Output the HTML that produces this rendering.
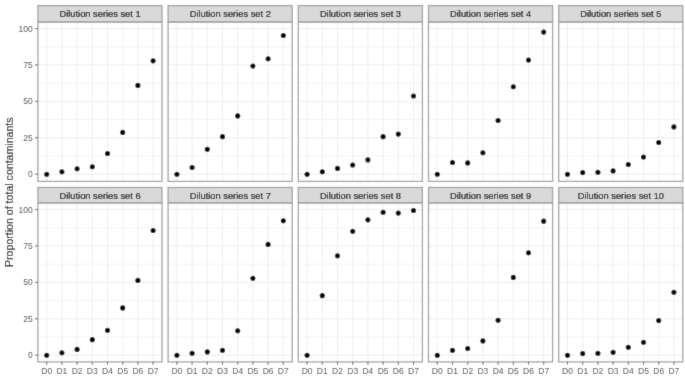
<!DOCTYPE html>
<html><head><meta charset="utf-8"><style>
html,body{margin:0;padding:0;background:#fff;width:685px;height:378px;overflow:hidden;}
#w{filter:grayscale(1);width:685px;height:378px;}
svg{display:block;font-family:"Liberation Sans",sans-serif;}
</style></head><body><div id="w">
<svg width="685" height="378" viewBox="0 0 685 378">
<defs><filter id="bl" x="0" y="0" width="1" height="1"><feConvolveMatrix order="3" kernelMatrix="0.01134 0.08382 0.01134 0.08382 0.61935 0.08382 0.01134 0.08382 0.01134" edgeMode="duplicate" preserveAlpha="true"/></filter></defs>
<g filter="url(#bl)"><rect width="685" height="378" fill="#fff"/>
<line x1="37.90" x2="162.00" y1="155.99" y2="155.99" stroke="#ebebeb" stroke-width="0.5"/>
<line x1="37.90" x2="162.00" y1="119.56" y2="119.56" stroke="#ebebeb" stroke-width="0.5"/>
<line x1="37.90" x2="162.00" y1="83.14" y2="83.14" stroke="#ebebeb" stroke-width="0.5"/>
<line x1="37.90" x2="162.00" y1="46.71" y2="46.71" stroke="#ebebeb" stroke-width="0.5"/>
<line x1="37.90" x2="162.00" y1="174.20" y2="174.20" stroke="#ebebeb" stroke-width="0.85"/>
<line x1="37.90" x2="162.00" y1="137.77" y2="137.77" stroke="#ebebeb" stroke-width="0.85"/>
<line x1="37.90" x2="162.00" y1="101.35" y2="101.35" stroke="#ebebeb" stroke-width="0.85"/>
<line x1="37.90" x2="162.00" y1="64.92" y2="64.92" stroke="#ebebeb" stroke-width="0.85"/>
<line x1="37.90" x2="162.00" y1="28.50" y2="28.50" stroke="#ebebeb" stroke-width="0.85"/>
<line x1="46.70" x2="46.70" y1="22.00" y2="181.40" stroke="#ebebeb" stroke-width="0.85"/>
<line x1="61.90" x2="61.90" y1="22.00" y2="181.40" stroke="#ebebeb" stroke-width="0.85"/>
<line x1="77.10" x2="77.10" y1="22.00" y2="181.40" stroke="#ebebeb" stroke-width="0.85"/>
<line x1="92.30" x2="92.30" y1="22.00" y2="181.40" stroke="#ebebeb" stroke-width="0.85"/>
<line x1="107.50" x2="107.50" y1="22.00" y2="181.40" stroke="#ebebeb" stroke-width="0.85"/>
<line x1="122.70" x2="122.70" y1="22.00" y2="181.40" stroke="#ebebeb" stroke-width="0.85"/>
<line x1="137.90" x2="137.90" y1="22.00" y2="181.40" stroke="#ebebeb" stroke-width="0.85"/>
<line x1="153.10" x2="153.10" y1="22.00" y2="181.40" stroke="#ebebeb" stroke-width="0.85"/>
<rect x="37.90" y="5.60" width="124.10" height="16.40" fill="#d9d9d9" stroke="#a3a3a3" stroke-width="1.3"/>
<text x="100.05" y="17.10" text-anchor="middle" font-family="Liberation Sans" font-size="9.3" fill="#111" stroke="#111" stroke-width="0.2">Dilution series set 1</text>
<rect x="37.90" y="22.00" width="124.10" height="159.40" fill="none" stroke="#a3a3a3" stroke-width="1.3"/>
<circle cx="46.70" cy="174.30" r="2.55" fill="#000"/>
<circle cx="61.90" cy="171.77" r="2.55" fill="#000"/>
<circle cx="77.10" cy="168.81" r="2.55" fill="#000"/>
<circle cx="92.30" cy="166.69" r="2.55" fill="#000"/>
<circle cx="107.50" cy="153.57" r="2.55" fill="#000"/>
<circle cx="122.70" cy="132.40" r="2.55" fill="#000"/>
<circle cx="137.90" cy="85.42" r="2.55" fill="#000"/>
<circle cx="153.10" cy="60.87" r="2.55" fill="#000"/>
<line x1="35.10" x2="37.90" y1="174.20" y2="174.20" stroke="#6a6a6a" stroke-width="1.1"/>
<text x="32.70" y="177.20" text-anchor="end" font-family="Liberation Sans" font-size="8.5" fill="#4d4d4d">0</text>
<line x1="35.10" x2="37.90" y1="137.77" y2="137.77" stroke="#6a6a6a" stroke-width="1.1"/>
<text x="32.70" y="140.77" text-anchor="end" font-family="Liberation Sans" font-size="8.5" fill="#4d4d4d">25</text>
<line x1="35.10" x2="37.90" y1="101.35" y2="101.35" stroke="#6a6a6a" stroke-width="1.1"/>
<text x="32.70" y="104.35" text-anchor="end" font-family="Liberation Sans" font-size="8.5" fill="#4d4d4d">50</text>
<line x1="35.10" x2="37.90" y1="64.92" y2="64.92" stroke="#6a6a6a" stroke-width="1.1"/>
<text x="32.70" y="67.92" text-anchor="end" font-family="Liberation Sans" font-size="8.5" fill="#4d4d4d">75</text>
<line x1="35.10" x2="37.90" y1="28.50" y2="28.50" stroke="#6a6a6a" stroke-width="1.1"/>
<text x="32.70" y="31.50" text-anchor="end" font-family="Liberation Sans" font-size="8.5" fill="#4d4d4d">100</text>
<line x1="168.10" x2="292.20" y1="155.99" y2="155.99" stroke="#ebebeb" stroke-width="0.5"/>
<line x1="168.10" x2="292.20" y1="119.56" y2="119.56" stroke="#ebebeb" stroke-width="0.5"/>
<line x1="168.10" x2="292.20" y1="83.14" y2="83.14" stroke="#ebebeb" stroke-width="0.5"/>
<line x1="168.10" x2="292.20" y1="46.71" y2="46.71" stroke="#ebebeb" stroke-width="0.5"/>
<line x1="168.10" x2="292.20" y1="174.20" y2="174.20" stroke="#ebebeb" stroke-width="0.85"/>
<line x1="168.10" x2="292.20" y1="137.77" y2="137.77" stroke="#ebebeb" stroke-width="0.85"/>
<line x1="168.10" x2="292.20" y1="101.35" y2="101.35" stroke="#ebebeb" stroke-width="0.85"/>
<line x1="168.10" x2="292.20" y1="64.92" y2="64.92" stroke="#ebebeb" stroke-width="0.85"/>
<line x1="168.10" x2="292.20" y1="28.50" y2="28.50" stroke="#ebebeb" stroke-width="0.85"/>
<line x1="176.90" x2="176.90" y1="22.00" y2="181.40" stroke="#ebebeb" stroke-width="0.85"/>
<line x1="192.10" x2="192.10" y1="22.00" y2="181.40" stroke="#ebebeb" stroke-width="0.85"/>
<line x1="207.30" x2="207.30" y1="22.00" y2="181.40" stroke="#ebebeb" stroke-width="0.85"/>
<line x1="222.50" x2="222.50" y1="22.00" y2="181.40" stroke="#ebebeb" stroke-width="0.85"/>
<line x1="237.70" x2="237.70" y1="22.00" y2="181.40" stroke="#ebebeb" stroke-width="0.85"/>
<line x1="252.90" x2="252.90" y1="22.00" y2="181.40" stroke="#ebebeb" stroke-width="0.85"/>
<line x1="268.10" x2="268.10" y1="22.00" y2="181.40" stroke="#ebebeb" stroke-width="0.85"/>
<line x1="283.30" x2="283.30" y1="22.00" y2="181.40" stroke="#ebebeb" stroke-width="0.85"/>
<rect x="168.10" y="5.60" width="124.10" height="16.40" fill="#d9d9d9" stroke="#a3a3a3" stroke-width="1.3"/>
<text x="230.25" y="17.10" text-anchor="middle" font-family="Liberation Sans" font-size="9.3" fill="#111" stroke="#111" stroke-width="0.2">Dilution series set 2</text>
<rect x="168.10" y="22.00" width="124.10" height="159.40" fill="none" stroke="#a3a3a3" stroke-width="1.3"/>
<circle cx="176.90" cy="174.30" r="2.55" fill="#000"/>
<circle cx="192.10" cy="167.54" r="2.55" fill="#000"/>
<circle cx="207.30" cy="149.33" r="2.55" fill="#000"/>
<circle cx="222.50" cy="136.64" r="2.55" fill="#000"/>
<circle cx="237.70" cy="115.89" r="2.55" fill="#000"/>
<circle cx="252.90" cy="65.95" r="2.55" fill="#000"/>
<circle cx="268.10" cy="58.75" r="2.55" fill="#000"/>
<circle cx="283.30" cy="35.47" r="2.55" fill="#000"/>
<line x1="298.30" x2="422.40" y1="155.99" y2="155.99" stroke="#ebebeb" stroke-width="0.5"/>
<line x1="298.30" x2="422.40" y1="119.56" y2="119.56" stroke="#ebebeb" stroke-width="0.5"/>
<line x1="298.30" x2="422.40" y1="83.14" y2="83.14" stroke="#ebebeb" stroke-width="0.5"/>
<line x1="298.30" x2="422.40" y1="46.71" y2="46.71" stroke="#ebebeb" stroke-width="0.5"/>
<line x1="298.30" x2="422.40" y1="174.20" y2="174.20" stroke="#ebebeb" stroke-width="0.85"/>
<line x1="298.30" x2="422.40" y1="137.77" y2="137.77" stroke="#ebebeb" stroke-width="0.85"/>
<line x1="298.30" x2="422.40" y1="101.35" y2="101.35" stroke="#ebebeb" stroke-width="0.85"/>
<line x1="298.30" x2="422.40" y1="64.92" y2="64.92" stroke="#ebebeb" stroke-width="0.85"/>
<line x1="298.30" x2="422.40" y1="28.50" y2="28.50" stroke="#ebebeb" stroke-width="0.85"/>
<line x1="307.10" x2="307.10" y1="22.00" y2="181.40" stroke="#ebebeb" stroke-width="0.85"/>
<line x1="322.30" x2="322.30" y1="22.00" y2="181.40" stroke="#ebebeb" stroke-width="0.85"/>
<line x1="337.50" x2="337.50" y1="22.00" y2="181.40" stroke="#ebebeb" stroke-width="0.85"/>
<line x1="352.70" x2="352.70" y1="22.00" y2="181.40" stroke="#ebebeb" stroke-width="0.85"/>
<line x1="367.90" x2="367.90" y1="22.00" y2="181.40" stroke="#ebebeb" stroke-width="0.85"/>
<line x1="383.10" x2="383.10" y1="22.00" y2="181.40" stroke="#ebebeb" stroke-width="0.85"/>
<line x1="398.30" x2="398.30" y1="22.00" y2="181.40" stroke="#ebebeb" stroke-width="0.85"/>
<line x1="413.50" x2="413.50" y1="22.00" y2="181.40" stroke="#ebebeb" stroke-width="0.85"/>
<rect x="298.30" y="5.60" width="124.10" height="16.40" fill="#d9d9d9" stroke="#a3a3a3" stroke-width="1.3"/>
<text x="360.45" y="17.10" text-anchor="middle" font-family="Liberation Sans" font-size="9.3" fill="#111" stroke="#111" stroke-width="0.2">Dilution series set 3</text>
<rect x="298.30" y="22.00" width="124.10" height="159.40" fill="none" stroke="#a3a3a3" stroke-width="1.3"/>
<circle cx="307.10" cy="174.30" r="2.55" fill="#000"/>
<circle cx="322.30" cy="171.77" r="2.55" fill="#000"/>
<circle cx="337.50" cy="168.38" r="2.55" fill="#000"/>
<circle cx="352.70" cy="165.00" r="2.55" fill="#000"/>
<circle cx="367.90" cy="159.92" r="2.55" fill="#000"/>
<circle cx="383.10" cy="136.64" r="2.55" fill="#000"/>
<circle cx="398.30" cy="134.10" r="2.55" fill="#000"/>
<circle cx="413.50" cy="96.00" r="2.55" fill="#000"/>
<line x1="428.50" x2="552.60" y1="155.99" y2="155.99" stroke="#ebebeb" stroke-width="0.5"/>
<line x1="428.50" x2="552.60" y1="119.56" y2="119.56" stroke="#ebebeb" stroke-width="0.5"/>
<line x1="428.50" x2="552.60" y1="83.14" y2="83.14" stroke="#ebebeb" stroke-width="0.5"/>
<line x1="428.50" x2="552.60" y1="46.71" y2="46.71" stroke="#ebebeb" stroke-width="0.5"/>
<line x1="428.50" x2="552.60" y1="174.20" y2="174.20" stroke="#ebebeb" stroke-width="0.85"/>
<line x1="428.50" x2="552.60" y1="137.77" y2="137.77" stroke="#ebebeb" stroke-width="0.85"/>
<line x1="428.50" x2="552.60" y1="101.35" y2="101.35" stroke="#ebebeb" stroke-width="0.85"/>
<line x1="428.50" x2="552.60" y1="64.92" y2="64.92" stroke="#ebebeb" stroke-width="0.85"/>
<line x1="428.50" x2="552.60" y1="28.50" y2="28.50" stroke="#ebebeb" stroke-width="0.85"/>
<line x1="437.30" x2="437.30" y1="22.00" y2="181.40" stroke="#ebebeb" stroke-width="0.85"/>
<line x1="452.50" x2="452.50" y1="22.00" y2="181.40" stroke="#ebebeb" stroke-width="0.85"/>
<line x1="467.70" x2="467.70" y1="22.00" y2="181.40" stroke="#ebebeb" stroke-width="0.85"/>
<line x1="482.90" x2="482.90" y1="22.00" y2="181.40" stroke="#ebebeb" stroke-width="0.85"/>
<line x1="498.10" x2="498.10" y1="22.00" y2="181.40" stroke="#ebebeb" stroke-width="0.85"/>
<line x1="513.30" x2="513.30" y1="22.00" y2="181.40" stroke="#ebebeb" stroke-width="0.85"/>
<line x1="528.50" x2="528.50" y1="22.00" y2="181.40" stroke="#ebebeb" stroke-width="0.85"/>
<line x1="543.70" x2="543.70" y1="22.00" y2="181.40" stroke="#ebebeb" stroke-width="0.85"/>
<rect x="428.50" y="5.60" width="124.10" height="16.40" fill="#d9d9d9" stroke="#a3a3a3" stroke-width="1.3"/>
<text x="490.65" y="17.10" text-anchor="middle" font-family="Liberation Sans" font-size="9.3" fill="#111" stroke="#111" stroke-width="0.2">Dilution series set 4</text>
<rect x="428.50" y="22.00" width="124.10" height="159.40" fill="none" stroke="#a3a3a3" stroke-width="1.3"/>
<circle cx="437.30" cy="174.30" r="2.55" fill="#000"/>
<circle cx="452.50" cy="162.46" r="2.55" fill="#000"/>
<circle cx="467.70" cy="162.88" r="2.55" fill="#000"/>
<circle cx="482.90" cy="152.72" r="2.55" fill="#000"/>
<circle cx="498.10" cy="120.55" r="2.55" fill="#000"/>
<circle cx="513.30" cy="86.69" r="2.55" fill="#000"/>
<circle cx="528.50" cy="60.02" r="2.55" fill="#000"/>
<circle cx="543.70" cy="32.09" r="2.55" fill="#000"/>
<line x1="558.70" x2="682.80" y1="155.99" y2="155.99" stroke="#ebebeb" stroke-width="0.5"/>
<line x1="558.70" x2="682.80" y1="119.56" y2="119.56" stroke="#ebebeb" stroke-width="0.5"/>
<line x1="558.70" x2="682.80" y1="83.14" y2="83.14" stroke="#ebebeb" stroke-width="0.5"/>
<line x1="558.70" x2="682.80" y1="46.71" y2="46.71" stroke="#ebebeb" stroke-width="0.5"/>
<line x1="558.70" x2="682.80" y1="174.20" y2="174.20" stroke="#ebebeb" stroke-width="0.85"/>
<line x1="558.70" x2="682.80" y1="137.77" y2="137.77" stroke="#ebebeb" stroke-width="0.85"/>
<line x1="558.70" x2="682.80" y1="101.35" y2="101.35" stroke="#ebebeb" stroke-width="0.85"/>
<line x1="558.70" x2="682.80" y1="64.92" y2="64.92" stroke="#ebebeb" stroke-width="0.85"/>
<line x1="558.70" x2="682.80" y1="28.50" y2="28.50" stroke="#ebebeb" stroke-width="0.85"/>
<line x1="567.50" x2="567.50" y1="22.00" y2="181.40" stroke="#ebebeb" stroke-width="0.85"/>
<line x1="582.70" x2="582.70" y1="22.00" y2="181.40" stroke="#ebebeb" stroke-width="0.85"/>
<line x1="597.90" x2="597.90" y1="22.00" y2="181.40" stroke="#ebebeb" stroke-width="0.85"/>
<line x1="613.10" x2="613.10" y1="22.00" y2="181.40" stroke="#ebebeb" stroke-width="0.85"/>
<line x1="628.30" x2="628.30" y1="22.00" y2="181.40" stroke="#ebebeb" stroke-width="0.85"/>
<line x1="643.50" x2="643.50" y1="22.00" y2="181.40" stroke="#ebebeb" stroke-width="0.85"/>
<line x1="658.70" x2="658.70" y1="22.00" y2="181.40" stroke="#ebebeb" stroke-width="0.85"/>
<line x1="673.90" x2="673.90" y1="22.00" y2="181.40" stroke="#ebebeb" stroke-width="0.85"/>
<rect x="558.70" y="5.60" width="124.10" height="16.40" fill="#d9d9d9" stroke="#a3a3a3" stroke-width="1.3"/>
<text x="620.85" y="17.10" text-anchor="middle" font-family="Liberation Sans" font-size="9.3" fill="#111" stroke="#111" stroke-width="0.2">Dilution series set 5</text>
<rect x="558.70" y="22.00" width="124.10" height="159.40" fill="none" stroke="#a3a3a3" stroke-width="1.3"/>
<circle cx="567.50" cy="174.30" r="2.55" fill="#000"/>
<circle cx="582.70" cy="172.61" r="2.55" fill="#000"/>
<circle cx="597.90" cy="172.19" r="2.55" fill="#000"/>
<circle cx="613.10" cy="170.92" r="2.55" fill="#000"/>
<circle cx="628.30" cy="164.57" r="2.55" fill="#000"/>
<circle cx="643.50" cy="156.95" r="2.55" fill="#000"/>
<circle cx="658.70" cy="142.56" r="2.55" fill="#000"/>
<circle cx="673.90" cy="126.90" r="2.55" fill="#000"/>
<line x1="37.90" x2="162.00" y1="336.99" y2="336.99" stroke="#ebebeb" stroke-width="0.5"/>
<line x1="37.90" x2="162.00" y1="300.56" y2="300.56" stroke="#ebebeb" stroke-width="0.5"/>
<line x1="37.90" x2="162.00" y1="264.14" y2="264.14" stroke="#ebebeb" stroke-width="0.5"/>
<line x1="37.90" x2="162.00" y1="227.71" y2="227.71" stroke="#ebebeb" stroke-width="0.5"/>
<line x1="37.90" x2="162.00" y1="355.20" y2="355.20" stroke="#ebebeb" stroke-width="0.85"/>
<line x1="37.90" x2="162.00" y1="318.77" y2="318.77" stroke="#ebebeb" stroke-width="0.85"/>
<line x1="37.90" x2="162.00" y1="282.35" y2="282.35" stroke="#ebebeb" stroke-width="0.85"/>
<line x1="37.90" x2="162.00" y1="245.93" y2="245.93" stroke="#ebebeb" stroke-width="0.85"/>
<line x1="37.90" x2="162.00" y1="209.50" y2="209.50" stroke="#ebebeb" stroke-width="0.85"/>
<line x1="46.70" x2="46.70" y1="202.90" y2="361.90" stroke="#ebebeb" stroke-width="0.85"/>
<line x1="61.90" x2="61.90" y1="202.90" y2="361.90" stroke="#ebebeb" stroke-width="0.85"/>
<line x1="77.10" x2="77.10" y1="202.90" y2="361.90" stroke="#ebebeb" stroke-width="0.85"/>
<line x1="92.30" x2="92.30" y1="202.90" y2="361.90" stroke="#ebebeb" stroke-width="0.85"/>
<line x1="107.50" x2="107.50" y1="202.90" y2="361.90" stroke="#ebebeb" stroke-width="0.85"/>
<line x1="122.70" x2="122.70" y1="202.90" y2="361.90" stroke="#ebebeb" stroke-width="0.85"/>
<line x1="137.90" x2="137.90" y1="202.90" y2="361.90" stroke="#ebebeb" stroke-width="0.85"/>
<line x1="153.10" x2="153.10" y1="202.90" y2="361.90" stroke="#ebebeb" stroke-width="0.85"/>
<rect x="37.90" y="187.50" width="124.10" height="15.40" fill="#d9d9d9" stroke="#a3a3a3" stroke-width="1.3"/>
<text x="100.05" y="198.50" text-anchor="middle" font-family="Liberation Sans" font-size="9.3" fill="#111" stroke="#111" stroke-width="0.2">Dilution series set 6</text>
<rect x="37.90" y="202.90" width="124.10" height="159.00" fill="none" stroke="#a3a3a3" stroke-width="1.3"/>
<circle cx="46.70" cy="355.30" r="2.55" fill="#000"/>
<circle cx="61.90" cy="352.77" r="2.55" fill="#000"/>
<circle cx="77.10" cy="349.38" r="2.55" fill="#000"/>
<circle cx="92.30" cy="339.65" r="2.55" fill="#000"/>
<circle cx="107.50" cy="330.33" r="2.55" fill="#000"/>
<circle cx="122.70" cy="307.90" r="2.55" fill="#000"/>
<circle cx="137.90" cy="280.39" r="2.55" fill="#000"/>
<circle cx="153.10" cy="230.44" r="2.55" fill="#000"/>
<line x1="35.10" x2="37.90" y1="355.20" y2="355.20" stroke="#6a6a6a" stroke-width="1.1"/>
<text x="32.70" y="358.20" text-anchor="end" font-family="Liberation Sans" font-size="8.5" fill="#4d4d4d">0</text>
<line x1="35.10" x2="37.90" y1="318.77" y2="318.77" stroke="#6a6a6a" stroke-width="1.1"/>
<text x="32.70" y="321.77" text-anchor="end" font-family="Liberation Sans" font-size="8.5" fill="#4d4d4d">25</text>
<line x1="35.10" x2="37.90" y1="282.35" y2="282.35" stroke="#6a6a6a" stroke-width="1.1"/>
<text x="32.70" y="285.35" text-anchor="end" font-family="Liberation Sans" font-size="8.5" fill="#4d4d4d">50</text>
<line x1="35.10" x2="37.90" y1="245.93" y2="245.93" stroke="#6a6a6a" stroke-width="1.1"/>
<text x="32.70" y="248.93" text-anchor="end" font-family="Liberation Sans" font-size="8.5" fill="#4d4d4d">75</text>
<line x1="35.10" x2="37.90" y1="209.50" y2="209.50" stroke="#6a6a6a" stroke-width="1.1"/>
<text x="32.70" y="212.50" text-anchor="end" font-family="Liberation Sans" font-size="8.5" fill="#4d4d4d">100</text>
<line x1="46.70" x2="46.70" y1="361.90" y2="364.70" stroke="#6a6a6a" stroke-width="1.1"/>
<text x="46.70" y="373.50" text-anchor="middle" font-family="Liberation Sans" font-size="8.5" fill="#4d4d4d">D0</text>
<line x1="61.90" x2="61.90" y1="361.90" y2="364.70" stroke="#6a6a6a" stroke-width="1.1"/>
<text x="61.90" y="373.50" text-anchor="middle" font-family="Liberation Sans" font-size="8.5" fill="#4d4d4d">D1</text>
<line x1="77.10" x2="77.10" y1="361.90" y2="364.70" stroke="#6a6a6a" stroke-width="1.1"/>
<text x="77.10" y="373.50" text-anchor="middle" font-family="Liberation Sans" font-size="8.5" fill="#4d4d4d">D2</text>
<line x1="92.30" x2="92.30" y1="361.90" y2="364.70" stroke="#6a6a6a" stroke-width="1.1"/>
<text x="92.30" y="373.50" text-anchor="middle" font-family="Liberation Sans" font-size="8.5" fill="#4d4d4d">D3</text>
<line x1="107.50" x2="107.50" y1="361.90" y2="364.70" stroke="#6a6a6a" stroke-width="1.1"/>
<text x="107.50" y="373.50" text-anchor="middle" font-family="Liberation Sans" font-size="8.5" fill="#4d4d4d">D4</text>
<line x1="122.70" x2="122.70" y1="361.90" y2="364.70" stroke="#6a6a6a" stroke-width="1.1"/>
<text x="122.70" y="373.50" text-anchor="middle" font-family="Liberation Sans" font-size="8.5" fill="#4d4d4d">D5</text>
<line x1="137.90" x2="137.90" y1="361.90" y2="364.70" stroke="#6a6a6a" stroke-width="1.1"/>
<text x="137.90" y="373.50" text-anchor="middle" font-family="Liberation Sans" font-size="8.5" fill="#4d4d4d">D6</text>
<line x1="153.10" x2="153.10" y1="361.90" y2="364.70" stroke="#6a6a6a" stroke-width="1.1"/>
<text x="153.10" y="373.50" text-anchor="middle" font-family="Liberation Sans" font-size="8.5" fill="#4d4d4d">D7</text>
<line x1="168.10" x2="292.20" y1="336.99" y2="336.99" stroke="#ebebeb" stroke-width="0.5"/>
<line x1="168.10" x2="292.20" y1="300.56" y2="300.56" stroke="#ebebeb" stroke-width="0.5"/>
<line x1="168.10" x2="292.20" y1="264.14" y2="264.14" stroke="#ebebeb" stroke-width="0.5"/>
<line x1="168.10" x2="292.20" y1="227.71" y2="227.71" stroke="#ebebeb" stroke-width="0.5"/>
<line x1="168.10" x2="292.20" y1="355.20" y2="355.20" stroke="#ebebeb" stroke-width="0.85"/>
<line x1="168.10" x2="292.20" y1="318.77" y2="318.77" stroke="#ebebeb" stroke-width="0.85"/>
<line x1="168.10" x2="292.20" y1="282.35" y2="282.35" stroke="#ebebeb" stroke-width="0.85"/>
<line x1="168.10" x2="292.20" y1="245.93" y2="245.93" stroke="#ebebeb" stroke-width="0.85"/>
<line x1="168.10" x2="292.20" y1="209.50" y2="209.50" stroke="#ebebeb" stroke-width="0.85"/>
<line x1="176.90" x2="176.90" y1="202.90" y2="361.90" stroke="#ebebeb" stroke-width="0.85"/>
<line x1="192.10" x2="192.10" y1="202.90" y2="361.90" stroke="#ebebeb" stroke-width="0.85"/>
<line x1="207.30" x2="207.30" y1="202.90" y2="361.90" stroke="#ebebeb" stroke-width="0.85"/>
<line x1="222.50" x2="222.50" y1="202.90" y2="361.90" stroke="#ebebeb" stroke-width="0.85"/>
<line x1="237.70" x2="237.70" y1="202.90" y2="361.90" stroke="#ebebeb" stroke-width="0.85"/>
<line x1="252.90" x2="252.90" y1="202.90" y2="361.90" stroke="#ebebeb" stroke-width="0.85"/>
<line x1="268.10" x2="268.10" y1="202.90" y2="361.90" stroke="#ebebeb" stroke-width="0.85"/>
<line x1="283.30" x2="283.30" y1="202.90" y2="361.90" stroke="#ebebeb" stroke-width="0.85"/>
<rect x="168.10" y="187.50" width="124.10" height="15.40" fill="#d9d9d9" stroke="#a3a3a3" stroke-width="1.3"/>
<text x="230.25" y="198.50" text-anchor="middle" font-family="Liberation Sans" font-size="9.3" fill="#111" stroke="#111" stroke-width="0.2">Dilution series set 7</text>
<rect x="168.10" y="202.90" width="124.10" height="159.00" fill="none" stroke="#a3a3a3" stroke-width="1.3"/>
<circle cx="176.90" cy="355.30" r="2.55" fill="#000"/>
<circle cx="192.10" cy="353.19" r="2.55" fill="#000"/>
<circle cx="207.30" cy="351.92" r="2.55" fill="#000"/>
<circle cx="222.50" cy="350.23" r="2.55" fill="#000"/>
<circle cx="237.70" cy="330.76" r="2.55" fill="#000"/>
<circle cx="252.90" cy="278.27" r="2.55" fill="#000"/>
<circle cx="268.10" cy="244.41" r="2.55" fill="#000"/>
<circle cx="283.30" cy="220.70" r="2.55" fill="#000"/>
<line x1="176.90" x2="176.90" y1="361.90" y2="364.70" stroke="#6a6a6a" stroke-width="1.1"/>
<text x="176.90" y="373.50" text-anchor="middle" font-family="Liberation Sans" font-size="8.5" fill="#4d4d4d">D0</text>
<line x1="192.10" x2="192.10" y1="361.90" y2="364.70" stroke="#6a6a6a" stroke-width="1.1"/>
<text x="192.10" y="373.50" text-anchor="middle" font-family="Liberation Sans" font-size="8.5" fill="#4d4d4d">D1</text>
<line x1="207.30" x2="207.30" y1="361.90" y2="364.70" stroke="#6a6a6a" stroke-width="1.1"/>
<text x="207.30" y="373.50" text-anchor="middle" font-family="Liberation Sans" font-size="8.5" fill="#4d4d4d">D2</text>
<line x1="222.50" x2="222.50" y1="361.90" y2="364.70" stroke="#6a6a6a" stroke-width="1.1"/>
<text x="222.50" y="373.50" text-anchor="middle" font-family="Liberation Sans" font-size="8.5" fill="#4d4d4d">D3</text>
<line x1="237.70" x2="237.70" y1="361.90" y2="364.70" stroke="#6a6a6a" stroke-width="1.1"/>
<text x="237.70" y="373.50" text-anchor="middle" font-family="Liberation Sans" font-size="8.5" fill="#4d4d4d">D4</text>
<line x1="252.90" x2="252.90" y1="361.90" y2="364.70" stroke="#6a6a6a" stroke-width="1.1"/>
<text x="252.90" y="373.50" text-anchor="middle" font-family="Liberation Sans" font-size="8.5" fill="#4d4d4d">D5</text>
<line x1="268.10" x2="268.10" y1="361.90" y2="364.70" stroke="#6a6a6a" stroke-width="1.1"/>
<text x="268.10" y="373.50" text-anchor="middle" font-family="Liberation Sans" font-size="8.5" fill="#4d4d4d">D6</text>
<line x1="283.30" x2="283.30" y1="361.90" y2="364.70" stroke="#6a6a6a" stroke-width="1.1"/>
<text x="283.30" y="373.50" text-anchor="middle" font-family="Liberation Sans" font-size="8.5" fill="#4d4d4d">D7</text>
<line x1="298.30" x2="422.40" y1="336.99" y2="336.99" stroke="#ebebeb" stroke-width="0.5"/>
<line x1="298.30" x2="422.40" y1="300.56" y2="300.56" stroke="#ebebeb" stroke-width="0.5"/>
<line x1="298.30" x2="422.40" y1="264.14" y2="264.14" stroke="#ebebeb" stroke-width="0.5"/>
<line x1="298.30" x2="422.40" y1="227.71" y2="227.71" stroke="#ebebeb" stroke-width="0.5"/>
<line x1="298.30" x2="422.40" y1="355.20" y2="355.20" stroke="#ebebeb" stroke-width="0.85"/>
<line x1="298.30" x2="422.40" y1="318.77" y2="318.77" stroke="#ebebeb" stroke-width="0.85"/>
<line x1="298.30" x2="422.40" y1="282.35" y2="282.35" stroke="#ebebeb" stroke-width="0.85"/>
<line x1="298.30" x2="422.40" y1="245.93" y2="245.93" stroke="#ebebeb" stroke-width="0.85"/>
<line x1="298.30" x2="422.40" y1="209.50" y2="209.50" stroke="#ebebeb" stroke-width="0.85"/>
<line x1="307.10" x2="307.10" y1="202.90" y2="361.90" stroke="#ebebeb" stroke-width="0.85"/>
<line x1="322.30" x2="322.30" y1="202.90" y2="361.90" stroke="#ebebeb" stroke-width="0.85"/>
<line x1="337.50" x2="337.50" y1="202.90" y2="361.90" stroke="#ebebeb" stroke-width="0.85"/>
<line x1="352.70" x2="352.70" y1="202.90" y2="361.90" stroke="#ebebeb" stroke-width="0.85"/>
<line x1="367.90" x2="367.90" y1="202.90" y2="361.90" stroke="#ebebeb" stroke-width="0.85"/>
<line x1="383.10" x2="383.10" y1="202.90" y2="361.90" stroke="#ebebeb" stroke-width="0.85"/>
<line x1="398.30" x2="398.30" y1="202.90" y2="361.90" stroke="#ebebeb" stroke-width="0.85"/>
<line x1="413.50" x2="413.50" y1="202.90" y2="361.90" stroke="#ebebeb" stroke-width="0.85"/>
<rect x="298.30" y="187.50" width="124.10" height="15.40" fill="#d9d9d9" stroke="#a3a3a3" stroke-width="1.3"/>
<text x="360.45" y="198.50" text-anchor="middle" font-family="Liberation Sans" font-size="9.3" fill="#111" stroke="#111" stroke-width="0.2">Dilution series set 8</text>
<rect x="298.30" y="202.90" width="124.10" height="159.00" fill="none" stroke="#a3a3a3" stroke-width="1.3"/>
<circle cx="307.10" cy="355.30" r="2.55" fill="#000"/>
<circle cx="322.30" cy="295.63" r="2.55" fill="#000"/>
<circle cx="337.50" cy="255.84" r="2.55" fill="#000"/>
<circle cx="352.70" cy="231.29" r="2.55" fill="#000"/>
<circle cx="367.90" cy="219.86" r="2.55" fill="#000"/>
<circle cx="383.10" cy="212.24" r="2.55" fill="#000"/>
<circle cx="398.30" cy="213.09" r="2.55" fill="#000"/>
<circle cx="413.50" cy="210.55" r="2.55" fill="#000"/>
<line x1="307.10" x2="307.10" y1="361.90" y2="364.70" stroke="#6a6a6a" stroke-width="1.1"/>
<text x="307.10" y="373.50" text-anchor="middle" font-family="Liberation Sans" font-size="8.5" fill="#4d4d4d">D0</text>
<line x1="322.30" x2="322.30" y1="361.90" y2="364.70" stroke="#6a6a6a" stroke-width="1.1"/>
<text x="322.30" y="373.50" text-anchor="middle" font-family="Liberation Sans" font-size="8.5" fill="#4d4d4d">D1</text>
<line x1="337.50" x2="337.50" y1="361.90" y2="364.70" stroke="#6a6a6a" stroke-width="1.1"/>
<text x="337.50" y="373.50" text-anchor="middle" font-family="Liberation Sans" font-size="8.5" fill="#4d4d4d">D2</text>
<line x1="352.70" x2="352.70" y1="361.90" y2="364.70" stroke="#6a6a6a" stroke-width="1.1"/>
<text x="352.70" y="373.50" text-anchor="middle" font-family="Liberation Sans" font-size="8.5" fill="#4d4d4d">D3</text>
<line x1="367.90" x2="367.90" y1="361.90" y2="364.70" stroke="#6a6a6a" stroke-width="1.1"/>
<text x="367.90" y="373.50" text-anchor="middle" font-family="Liberation Sans" font-size="8.5" fill="#4d4d4d">D4</text>
<line x1="383.10" x2="383.10" y1="361.90" y2="364.70" stroke="#6a6a6a" stroke-width="1.1"/>
<text x="383.10" y="373.50" text-anchor="middle" font-family="Liberation Sans" font-size="8.5" fill="#4d4d4d">D5</text>
<line x1="398.30" x2="398.30" y1="361.90" y2="364.70" stroke="#6a6a6a" stroke-width="1.1"/>
<text x="398.30" y="373.50" text-anchor="middle" font-family="Liberation Sans" font-size="8.5" fill="#4d4d4d">D6</text>
<line x1="413.50" x2="413.50" y1="361.90" y2="364.70" stroke="#6a6a6a" stroke-width="1.1"/>
<text x="413.50" y="373.50" text-anchor="middle" font-family="Liberation Sans" font-size="8.5" fill="#4d4d4d">D7</text>
<line x1="428.50" x2="552.60" y1="336.99" y2="336.99" stroke="#ebebeb" stroke-width="0.5"/>
<line x1="428.50" x2="552.60" y1="300.56" y2="300.56" stroke="#ebebeb" stroke-width="0.5"/>
<line x1="428.50" x2="552.60" y1="264.14" y2="264.14" stroke="#ebebeb" stroke-width="0.5"/>
<line x1="428.50" x2="552.60" y1="227.71" y2="227.71" stroke="#ebebeb" stroke-width="0.5"/>
<line x1="428.50" x2="552.60" y1="355.20" y2="355.20" stroke="#ebebeb" stroke-width="0.85"/>
<line x1="428.50" x2="552.60" y1="318.77" y2="318.77" stroke="#ebebeb" stroke-width="0.85"/>
<line x1="428.50" x2="552.60" y1="282.35" y2="282.35" stroke="#ebebeb" stroke-width="0.85"/>
<line x1="428.50" x2="552.60" y1="245.93" y2="245.93" stroke="#ebebeb" stroke-width="0.85"/>
<line x1="428.50" x2="552.60" y1="209.50" y2="209.50" stroke="#ebebeb" stroke-width="0.85"/>
<line x1="437.30" x2="437.30" y1="202.90" y2="361.90" stroke="#ebebeb" stroke-width="0.85"/>
<line x1="452.50" x2="452.50" y1="202.90" y2="361.90" stroke="#ebebeb" stroke-width="0.85"/>
<line x1="467.70" x2="467.70" y1="202.90" y2="361.90" stroke="#ebebeb" stroke-width="0.85"/>
<line x1="482.90" x2="482.90" y1="202.90" y2="361.90" stroke="#ebebeb" stroke-width="0.85"/>
<line x1="498.10" x2="498.10" y1="202.90" y2="361.90" stroke="#ebebeb" stroke-width="0.85"/>
<line x1="513.30" x2="513.30" y1="202.90" y2="361.90" stroke="#ebebeb" stroke-width="0.85"/>
<line x1="528.50" x2="528.50" y1="202.90" y2="361.90" stroke="#ebebeb" stroke-width="0.85"/>
<line x1="543.70" x2="543.70" y1="202.90" y2="361.90" stroke="#ebebeb" stroke-width="0.85"/>
<rect x="428.50" y="187.50" width="124.10" height="15.40" fill="#d9d9d9" stroke="#a3a3a3" stroke-width="1.3"/>
<text x="490.65" y="198.50" text-anchor="middle" font-family="Liberation Sans" font-size="9.3" fill="#111" stroke="#111" stroke-width="0.2">Dilution series set 9</text>
<rect x="428.50" y="202.90" width="124.10" height="159.00" fill="none" stroke="#a3a3a3" stroke-width="1.3"/>
<circle cx="437.30" cy="355.30" r="2.55" fill="#000"/>
<circle cx="452.50" cy="350.23" r="2.55" fill="#000"/>
<circle cx="467.70" cy="348.54" r="2.55" fill="#000"/>
<circle cx="482.90" cy="340.92" r="2.55" fill="#000"/>
<circle cx="498.10" cy="320.18" r="2.55" fill="#000"/>
<circle cx="513.30" cy="277.42" r="2.55" fill="#000"/>
<circle cx="528.50" cy="252.87" r="2.55" fill="#000"/>
<circle cx="543.70" cy="221.13" r="2.55" fill="#000"/>
<line x1="437.30" x2="437.30" y1="361.90" y2="364.70" stroke="#6a6a6a" stroke-width="1.1"/>
<text x="437.30" y="373.50" text-anchor="middle" font-family="Liberation Sans" font-size="8.5" fill="#4d4d4d">D0</text>
<line x1="452.50" x2="452.50" y1="361.90" y2="364.70" stroke="#6a6a6a" stroke-width="1.1"/>
<text x="452.50" y="373.50" text-anchor="middle" font-family="Liberation Sans" font-size="8.5" fill="#4d4d4d">D1</text>
<line x1="467.70" x2="467.70" y1="361.90" y2="364.70" stroke="#6a6a6a" stroke-width="1.1"/>
<text x="467.70" y="373.50" text-anchor="middle" font-family="Liberation Sans" font-size="8.5" fill="#4d4d4d">D2</text>
<line x1="482.90" x2="482.90" y1="361.90" y2="364.70" stroke="#6a6a6a" stroke-width="1.1"/>
<text x="482.90" y="373.50" text-anchor="middle" font-family="Liberation Sans" font-size="8.5" fill="#4d4d4d">D3</text>
<line x1="498.10" x2="498.10" y1="361.90" y2="364.70" stroke="#6a6a6a" stroke-width="1.1"/>
<text x="498.10" y="373.50" text-anchor="middle" font-family="Liberation Sans" font-size="8.5" fill="#4d4d4d">D4</text>
<line x1="513.30" x2="513.30" y1="361.90" y2="364.70" stroke="#6a6a6a" stroke-width="1.1"/>
<text x="513.30" y="373.50" text-anchor="middle" font-family="Liberation Sans" font-size="8.5" fill="#4d4d4d">D5</text>
<line x1="528.50" x2="528.50" y1="361.90" y2="364.70" stroke="#6a6a6a" stroke-width="1.1"/>
<text x="528.50" y="373.50" text-anchor="middle" font-family="Liberation Sans" font-size="8.5" fill="#4d4d4d">D6</text>
<line x1="543.70" x2="543.70" y1="361.90" y2="364.70" stroke="#6a6a6a" stroke-width="1.1"/>
<text x="543.70" y="373.50" text-anchor="middle" font-family="Liberation Sans" font-size="8.5" fill="#4d4d4d">D7</text>
<line x1="558.70" x2="682.80" y1="336.99" y2="336.99" stroke="#ebebeb" stroke-width="0.5"/>
<line x1="558.70" x2="682.80" y1="300.56" y2="300.56" stroke="#ebebeb" stroke-width="0.5"/>
<line x1="558.70" x2="682.80" y1="264.14" y2="264.14" stroke="#ebebeb" stroke-width="0.5"/>
<line x1="558.70" x2="682.80" y1="227.71" y2="227.71" stroke="#ebebeb" stroke-width="0.5"/>
<line x1="558.70" x2="682.80" y1="355.20" y2="355.20" stroke="#ebebeb" stroke-width="0.85"/>
<line x1="558.70" x2="682.80" y1="318.77" y2="318.77" stroke="#ebebeb" stroke-width="0.85"/>
<line x1="558.70" x2="682.80" y1="282.35" y2="282.35" stroke="#ebebeb" stroke-width="0.85"/>
<line x1="558.70" x2="682.80" y1="245.93" y2="245.93" stroke="#ebebeb" stroke-width="0.85"/>
<line x1="558.70" x2="682.80" y1="209.50" y2="209.50" stroke="#ebebeb" stroke-width="0.85"/>
<line x1="567.50" x2="567.50" y1="202.90" y2="361.90" stroke="#ebebeb" stroke-width="0.85"/>
<line x1="582.70" x2="582.70" y1="202.90" y2="361.90" stroke="#ebebeb" stroke-width="0.85"/>
<line x1="597.90" x2="597.90" y1="202.90" y2="361.90" stroke="#ebebeb" stroke-width="0.85"/>
<line x1="613.10" x2="613.10" y1="202.90" y2="361.90" stroke="#ebebeb" stroke-width="0.85"/>
<line x1="628.30" x2="628.30" y1="202.90" y2="361.90" stroke="#ebebeb" stroke-width="0.85"/>
<line x1="643.50" x2="643.50" y1="202.90" y2="361.90" stroke="#ebebeb" stroke-width="0.85"/>
<line x1="658.70" x2="658.70" y1="202.90" y2="361.90" stroke="#ebebeb" stroke-width="0.85"/>
<line x1="673.90" x2="673.90" y1="202.90" y2="361.90" stroke="#ebebeb" stroke-width="0.85"/>
<rect x="558.70" y="187.50" width="124.10" height="15.40" fill="#d9d9d9" stroke="#a3a3a3" stroke-width="1.3"/>
<text x="620.85" y="198.50" text-anchor="middle" font-family="Liberation Sans" font-size="9.3" fill="#111" stroke="#111" stroke-width="0.2">Dilution series set 10</text>
<rect x="558.70" y="202.90" width="124.10" height="159.00" fill="none" stroke="#a3a3a3" stroke-width="1.3"/>
<circle cx="567.50" cy="355.30" r="2.55" fill="#000"/>
<circle cx="582.70" cy="353.61" r="2.55" fill="#000"/>
<circle cx="597.90" cy="353.19" r="2.55" fill="#000"/>
<circle cx="613.10" cy="352.34" r="2.55" fill="#000"/>
<circle cx="628.30" cy="347.27" r="2.55" fill="#000"/>
<circle cx="643.50" cy="342.19" r="2.55" fill="#000"/>
<circle cx="658.70" cy="320.60" r="2.55" fill="#000"/>
<circle cx="673.90" cy="292.24" r="2.55" fill="#000"/>
<line x1="567.50" x2="567.50" y1="361.90" y2="364.70" stroke="#6a6a6a" stroke-width="1.1"/>
<text x="567.50" y="373.50" text-anchor="middle" font-family="Liberation Sans" font-size="8.5" fill="#4d4d4d">D0</text>
<line x1="582.70" x2="582.70" y1="361.90" y2="364.70" stroke="#6a6a6a" stroke-width="1.1"/>
<text x="582.70" y="373.50" text-anchor="middle" font-family="Liberation Sans" font-size="8.5" fill="#4d4d4d">D1</text>
<line x1="597.90" x2="597.90" y1="361.90" y2="364.70" stroke="#6a6a6a" stroke-width="1.1"/>
<text x="597.90" y="373.50" text-anchor="middle" font-family="Liberation Sans" font-size="8.5" fill="#4d4d4d">D2</text>
<line x1="613.10" x2="613.10" y1="361.90" y2="364.70" stroke="#6a6a6a" stroke-width="1.1"/>
<text x="613.10" y="373.50" text-anchor="middle" font-family="Liberation Sans" font-size="8.5" fill="#4d4d4d">D3</text>
<line x1="628.30" x2="628.30" y1="361.90" y2="364.70" stroke="#6a6a6a" stroke-width="1.1"/>
<text x="628.30" y="373.50" text-anchor="middle" font-family="Liberation Sans" font-size="8.5" fill="#4d4d4d">D4</text>
<line x1="643.50" x2="643.50" y1="361.90" y2="364.70" stroke="#6a6a6a" stroke-width="1.1"/>
<text x="643.50" y="373.50" text-anchor="middle" font-family="Liberation Sans" font-size="8.5" fill="#4d4d4d">D5</text>
<line x1="658.70" x2="658.70" y1="361.90" y2="364.70" stroke="#6a6a6a" stroke-width="1.1"/>
<text x="658.70" y="373.50" text-anchor="middle" font-family="Liberation Sans" font-size="8.5" fill="#4d4d4d">D6</text>
<line x1="673.90" x2="673.90" y1="361.90" y2="364.70" stroke="#6a6a6a" stroke-width="1.1"/>
<text x="673.90" y="373.50" text-anchor="middle" font-family="Liberation Sans" font-size="8.5" fill="#4d4d4d">D7</text>
<text transform="translate(12.8,192.2) rotate(-90)" text-anchor="middle" font-family="Liberation Sans" font-size="10.6" fill="#000" stroke="#000" stroke-width="0.12">Proportion of total contaminants</text>
</g></svg>
</div></body></html>
